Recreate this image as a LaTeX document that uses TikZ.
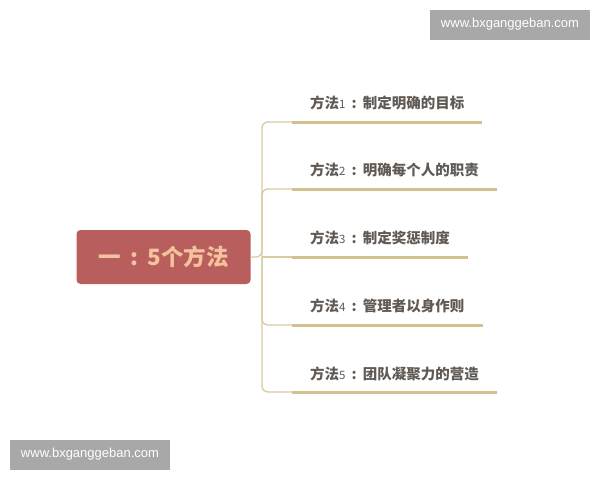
\documentclass[tikz,border=0pt]{standalone}
\usepackage{fontspec}
\setmainfont{Noto Sans CJK SC}
\newfontfamily\wmfont{Liberation Sans}
\definecolor{rootfill}{HTML}{B85F5D}
\definecolor{roottext}{HTML}{F4C39E}
\definecolor{thinline}{HTML}{D9CBA0}
\definecolor{thickline}{HTML}{D2C08F}
\definecolor{lbltext}{HTML}{615A54}
\definecolor{wmgray}{HTML}{A8A8A8}
\tikzset{
  rootbox/.style={fill=rootfill, rounded corners=4pt, minimum width=174pt, minimum height=54pt, inner sep=0pt,
    text=roottext, font=\fontsize{22.5}{22.5}\selectfont\bfseries},
  lbl/.style={anchor=west, inner sep=0pt, text=lbltext, font=\fontsize{14.5}{14.5}\selectfont\bfseries},
  trunk/.style={draw=thinline, line width=1.3pt, rounded corners=6pt},
  under/.style={draw=thickline, line width=3pt},
  wmbox/.style={fill=wmgray, minimum width=160pt, minimum height=30pt, inner sep=0pt,
    text=white, font=\wmfont\fontsize{13}{13}\selectfont},
}
\newcommand{\dg}[1]{{\fontsize{11.5}{11.5}\selectfont\mdseries #1}}
\newcommand{\cln}{\makebox[1.2em][c]{:}}
\begin{document}
\begin{tikzpicture}[x=1pt,y=-1pt]
\useasboundingbox (0,0) rectangle (600,480);
\fill[white] (0,0) rectangle (600,480);
% watermarks
\node[wmbox] (wm1) at (510,24.5) {www.bxganggeban.com};
\node[wmbox] (wm2) at (90,454.5) {www.bxganggeban.com};
% root
\node[rootbox] (root) at (163.5,257) {一\cln 5个方法};
\coordinate (j) at (262,257);
% branch points
\coordinate (b1) at (292,122);
\coordinate (b2) at (292,189);
\coordinate (b3) at (292,257);
\coordinate (b4) at (292,325);
\coordinate (b5) at (292,392);
\coordinate (e1) at (482,122);
\coordinate (e2) at (497,189);
\coordinate (e3) at (468,257);
\coordinate (e4) at (483,325);
\coordinate (e5) at (497,392);
% connectors
\draw[trunk] (root.east) -- (j) |- (b1);
\draw[trunk] (j) |- (b2);
\draw[trunk] (j) -- (b3);
\draw[trunk] (j) |- (b4);
\draw[trunk] (j) |- (b5);
\foreach \i in {1,...,5} { \draw[under] (b\i) -- (e\i); }
% labels
\node[lbl] (m1) at (310,103) {方法\dg{1}\cln 制定明确的目标};
\node[lbl] (m2) at (310,170) {方法\dg{2}\cln 明确每个人的职责};
\node[lbl] (m3) at (310,238) {方法\dg{3}\cln 制定奖惩制度};
\node[lbl] (m4) at (310,306) {方法\dg{4}\cln 管理者以身作则};
\node[lbl] (m5) at (310,374) {方法\dg{5}\cln 团队凝聚力的营造};
\end{tikzpicture}
\end{document}
